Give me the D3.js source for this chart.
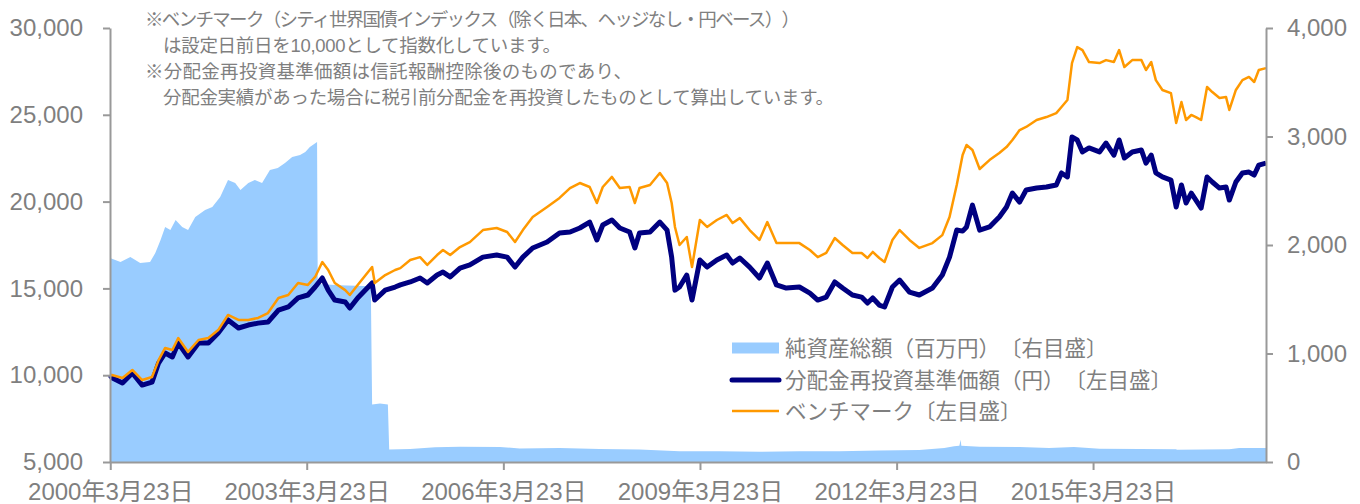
<!DOCTYPE html>
<html>
<head>
<meta charset="utf-8">
<script src="https://cdn.jsdelivr.net/npm/d3@7"></script>
<style>
  body { margin: 0; background: #fff; }
  text { font-family: "Liberation Sans", "Noto Sans CJK JP", sans-serif; fill: #7f7f7f; text-spacing-trim: space-all; }
</style>
</head>
<body>
<div id="chart"></div>
<script>
// dates are decimal years
const dates = [2000.22, 2000.25, 2000.41, 2000.56, 2000.71, 2000.86, 2000.96, 2001.06, 2001.17, 2001.26,
  2001.41, 2001.57, 2001.72, 2001.87, 2002.02, 2002.18, 2002.33, 2002.48, 2002.63, 2002.79,
  2002.94, 2003.09, 2003.24, 2003.35, 2003.46, 2003.55, 2003.65, 2003.81, 2003.88, 2004.00,
  2004.22, 2004.26, 2004.42, 2004.57, 2004.65, 2004.80, 2004.95, 2005.06, 2005.21, 2005.30,
  2005.41, 2005.56, 2005.71, 2005.91, 2006.12, 2006.28, 2006.40, 2006.52, 2006.67, 2006.89,
  2007.08, 2007.24, 2007.39, 2007.54, 2007.65, 2007.74, 2007.88, 2008.00, 2008.15, 2008.23,
  2008.30, 2008.46, 2008.61, 2008.72, 2008.79, 2008.84, 2008.91, 2009.02, 2009.10, 2009.22,
  2009.33, 2009.48, 2009.63, 2009.72, 2009.83, 2009.98, 2010.13, 2010.25, 2010.39, 2010.54,
  2010.74, 2010.90, 2011.02, 2011.15, 2011.28, 2011.40, 2011.55, 2011.69, 2011.78, 2011.86,
  2011.96, 2012.04, 2012.16, 2012.27, 2012.42, 2012.57, 2012.77, 2012.92, 2013.03, 2013.14,
  2013.23, 2013.29, 2013.38, 2013.49, 2013.64, 2013.79, 2013.90, 2013.99, 2014.10, 2014.20,
  2014.36, 2014.51, 2014.66, 2014.74, 2014.83, 2014.90, 2014.98, 2015.06, 2015.16, 2015.32,
  2015.42, 2015.54, 2015.62, 2015.70, 2015.82, 2015.96, 2016.03, 2016.11, 2016.18, 2016.28,
  2016.41, 2016.49, 2016.57, 2016.64, 2016.72, 2016.79, 2016.87, 2016.96, 2017.04, 2017.15,
  2017.25, 2017.30, 2017.40, 2017.50, 2017.60, 2017.68, 2017.75, 2017.86];

const navValues = [10000, 9850, 9550, 10130, 9430, 9600, 10700, 11280, 11050, 11850,
  11050, 11850, 11850, 12430, 13180, 12720, 12890, 13000, 13060, 13750,
  13930, 14450, 14620, 15080, 15600, 14900, 14330, 14220, 13870, 14450,
  15310, 14330, 14900, 15080, 15200, 15370, 15600, 15310, 15770, 15940,
  15660, 16170, 16350, 16800, 16920, 16800, 16230, 16800, 17330, 17670,
  18190, 18250, 18480, 18820, 17790, 18650, 18940, 18480, 18250, 17330,
  18190, 18250, 18820, 18360, 16800, 14900, 15080, 15770, 14330, 16640,
  16230, 16640, 16920, 16460, 16750, 16230, 15600, 16460, 15200, 15020,
  15080, 14730, 14330, 14500, 15370, 15020, 14620, 14500, 14160, 14450,
  14040, 13930, 15080, 15480, 14790, 14620, 15020, 15770, 16800, 18360,
  18300, 18540, 19800, 18360, 18540, 19110, 19690, 20490, 19970, 20670,
  20780, 20840, 20960, 21650, 21420, 23720, 23550, 22860, 23090, 22860,
  23370, 22680, 23550, 22510, 22860, 22970, 22220, 22680, 21650, 21420,
  21240, 19690, 20960, 19920, 20490, 20090, 19630, 21420, 21130, 20780,
  20840, 20090, 21130, 21650, 21700, 21530, 22100, 22220];

const benchValues = [10000, 10010, 9840, 10300, 9720, 9900, 10870, 11570, 11450, 12140,
  11340, 12030, 12140, 12600, 13470, 13180, 13180, 13300, 13580, 14450,
  14620, 15310, 15200, 15660, 16520, 16060, 15310, 14900, 14620, 15200,
  16230, 15310, 15770, 16060, 16170, 16640, 16800, 16350, 16920, 17210,
  16920, 17380, 17670, 18360, 18480, 18250, 17670, 18360, 19110, 19690,
  20210, 20780, 21070, 20840, 19920, 20840, 21420, 20780, 20840, 19920,
  20780, 20960, 21650, 21070, 19920, 18540, 17500, 17960, 16230, 18940,
  18540, 18940, 19230, 18770, 19050, 18360, 17790, 18820, 17610, 17610,
  17610, 17210, 16800, 17040, 17900, 17500, 17040, 17040, 16750, 17100,
  16750, 16520, 17790, 18360, 17790, 17330, 17610, 18070, 19110, 20960,
  22680, 23260, 22970, 21880, 22390, 22800, 23140, 23550, 24120, 24300,
  24700, 24870, 25100, 25450, 25850, 27980, 28900, 28730, 28040, 27980,
  28150, 28040, 28730, 27750, 28150, 28150, 27580, 28040, 27000, 26430,
  26250, 24530, 25740, 24700, 24990, 24870, 24700, 26600, 26310, 25970,
  26020, 25280, 26430, 27000, 27180, 26890, 27580, 27690];

// net assets (million yen), right axis
const assetDates = [2000.22, 2000.38, 2000.53, 2000.68, 2000.83, 2000.91, 2000.99, 2001.06, 2001.14, 2001.22,
  2001.32, 2001.41, 2001.52, 2001.67, 2001.78, 2001.90, 2002.02, 2002.13, 2002.21, 2002.33,
  2002.43, 2002.54, 2002.66, 2002.78, 2002.89, 2003.00, 2003.12, 2003.20, 2003.27, 2003.38,
  2003.39, 2003.73, 2004.20, 2004.22, 2004.34, 2004.46, 2004.48, 2004.80, 2005.18, 2005.56,
  2006.17, 2006.47, 2007.08, 2007.69, 2008.30, 2008.91, 2009.52, 2010.13, 2010.74, 2011.35,
  2011.96, 2012.57, 2012.95, 2013.10, 2013.18, 2013.20, 2013.21, 2013.49, 2014.10, 2014.55,
  2014.93, 2015.32, 2015.93, 2016.49, 2016.50, 2017.30, 2017.45, 2017.86];

const assetValues = [1880, 1843, 1890, 1834, 1843, 1926, 2046, 2166, 2138, 2230,
  2166, 2138, 2258, 2323, 2350, 2443, 2599, 2572, 2507, 2572,
  2599, 2572, 2691, 2710, 2756, 2811, 2830, 2857, 2903, 2949,
  1640, 1630, 1620, 530, 540, 530, 115, 120, 135, 140,
  138, 125, 128, 120, 115, 100, 100, 95, 100, 100,
  105, 110, 130, 145, 150, 205, 150, 140, 138, 130,
  138, 122, 120, 118, 112, 118, 128, 130];

const leftTicks = [5000, 10000, 15000, 20000, 25000, 30000];
const rightTicks = [0, 1000, 2000, 3000, 4000];
const xTickDates = ["2000-03-23", "2003-03-23", "2006-03-23", "2009-03-23", "2012-03-23", "2015-03-23"];
const xTickLabels = ["2000年3月23日", "2003年3月23日", "2006年3月23日", "2009年3月23日", "2012年3月23日", "2015年3月23日"];

const legendLabels = ["純資産総額（百万円）〔右目盛〕", "分配金再投資基準価額（円）〔左目盛〕", "ベンチマーク〔左目盛〕"];
const notes = [
  "※ベンチマーク（シティ世界国債インデックス（除く日本、ヘッジなし・円ベース））",
  "は設定日前日を10,000として指数化しています。",
  "※分配金再投資基準価額は信託報酬控除後のものであり、",
  "分配金実績があった場合に税引前分配金を再投資したものとして算出しています。"
];

const W = 1360, H = 504;
const margin = { top: 28, right: 94, bottom: 42, left: 110 };

function toDate(t) {
  const y = Math.floor(t);
  const a = new Date(y, 0, 1), b = new Date(y + 1, 0, 1);
  return new Date(+a + (t - y) * (b - a));
}

const svg = d3.select("#chart").append("svg")
  .attr("width", W).attr("height", H);

const x = d3.scaleTime()
  .domain([toDate(dates[0]), toDate(dates[dates.length - 1])])
  .range([margin.left, W - margin.right]);
const yL = d3.scaleLinear().domain([5000, 30000]).range([H - margin.bottom, margin.top]);
const yR = d3.scaleLinear().domain([0, 4000]).range([H - margin.bottom, margin.top]);

// net assets area
const assets = assetDates.map((d, i) => ({ date: toDate(d), v: assetValues[i] }));
svg.append("path")
  .datum(assets)
  .attr("fill", "#99ccff")
  .attr("d", d3.area().x(d => x(d.date)).y0(yR(0)).y1(d => yR(d.v)));

const series = dates.map((d, i) => ({ date: toDate(d), nav: navValues[i], bench: benchValues[i] }));

svg.append("path")
  .datum(series)
  .attr("fill", "none")
  .attr("stroke", "#000080")
  .attr("stroke-width", 5)
  .attr("stroke-linejoin", "round")
  .attr("d", d3.line().x(d => x(d.date)).y(d => yL(d.nav)));

svg.append("path")
  .datum(series)
  .attr("fill", "none")
  .attr("stroke", "#ff9900")
  .attr("stroke-width", 2.5)
  .attr("stroke-linejoin", "round")
  .attr("d", d3.line().x(d => x(d.date)).y(d => yL(d.bench)));

// axes
const fmt = d3.format(",");
const gL = svg.append("g")
  .attr("transform", `translate(${margin.left},0)`)
  .call(d3.axisLeft(yL).tickValues(leftTicks).tickFormat(fmt).tickSize(7).tickPadding(20).tickSizeOuter(0));
const gR = svg.append("g")
  .attr("transform", `translate(${W - margin.right},0)`)
  .call(d3.axisRight(yR).tickValues(rightTicks).tickFormat(fmt).tickSize(7).tickPadding(14).tickSizeOuter(0));
const gX = svg.append("g")
  .attr("transform", `translate(0,${H - margin.bottom})`)
  .call(d3.axisBottom(x)
    .tickValues(xTickDates.map(d => d3.timeParse("%Y-%m-%d")(d)))
    .tickFormat((d, i) => xTickLabels[i])
    .tickSize(8).tickPadding(13).tickSizeOuter(0));

[gL, gR, gX].forEach(g => {
  g.select(".domain").attr("stroke", "#999").attr("stroke-width", 2);
  g.selectAll(".tick line").attr("stroke", "#999").attr("stroke-width", 2);
  g.selectAll(".tick text").attr("fill", "#7f7f7f").attr("font-size", 24)
    .attr("font-family", "'Liberation Sans', 'Noto Sans CJK JP', sans-serif");
});

// notes
const noteX = [145, 163, 145, 163];
const noteY = [26, 52, 78, 104];
const noteW = [655, 398, 487, 671];
svg.selectAll(".note").data(notes).enter().append("text")
  .attr("class", "note")
  .attr("x", (d, i) => noteX[i])
  .attr("y", (d, i) => noteY[i])
  .attr("font-size", 18.5)
  .attr("textLength", (d, i) => noteW[i])
  .attr("lengthAdjust", "spacing")
  .text(d => d);

// legend
const lg = svg.append("g").attr("transform", "translate(732,348)");
lg.append("rect").attr("x", 0).attr("y", -5.5).attr("width", 47).attr("height", 11).attr("fill", "#99ccff");
lg.append("line").attr("x1", 0).attr("x2", 47).attr("y1", 32).attr("y2", 32)
  .attr("stroke", "#000080").attr("stroke-width", 5).attr("stroke-linecap", "round");
lg.append("line").attr("x1", 0).attr("x2", 47).attr("y1", 63).attr("y2", 63)
  .attr("stroke", "#ff9900").attr("stroke-width", 2.5);
lg.selectAll(".lt").data(legendLabels).enter().append("text")
  .attr("x", 53)
  .attr("y", (d, i) => [0, 32, 63][i])
  .attr("dy", "0.35em")
  .attr("font-size", 21.5)
  .text(d => d);
</script>
</body>
</html>
